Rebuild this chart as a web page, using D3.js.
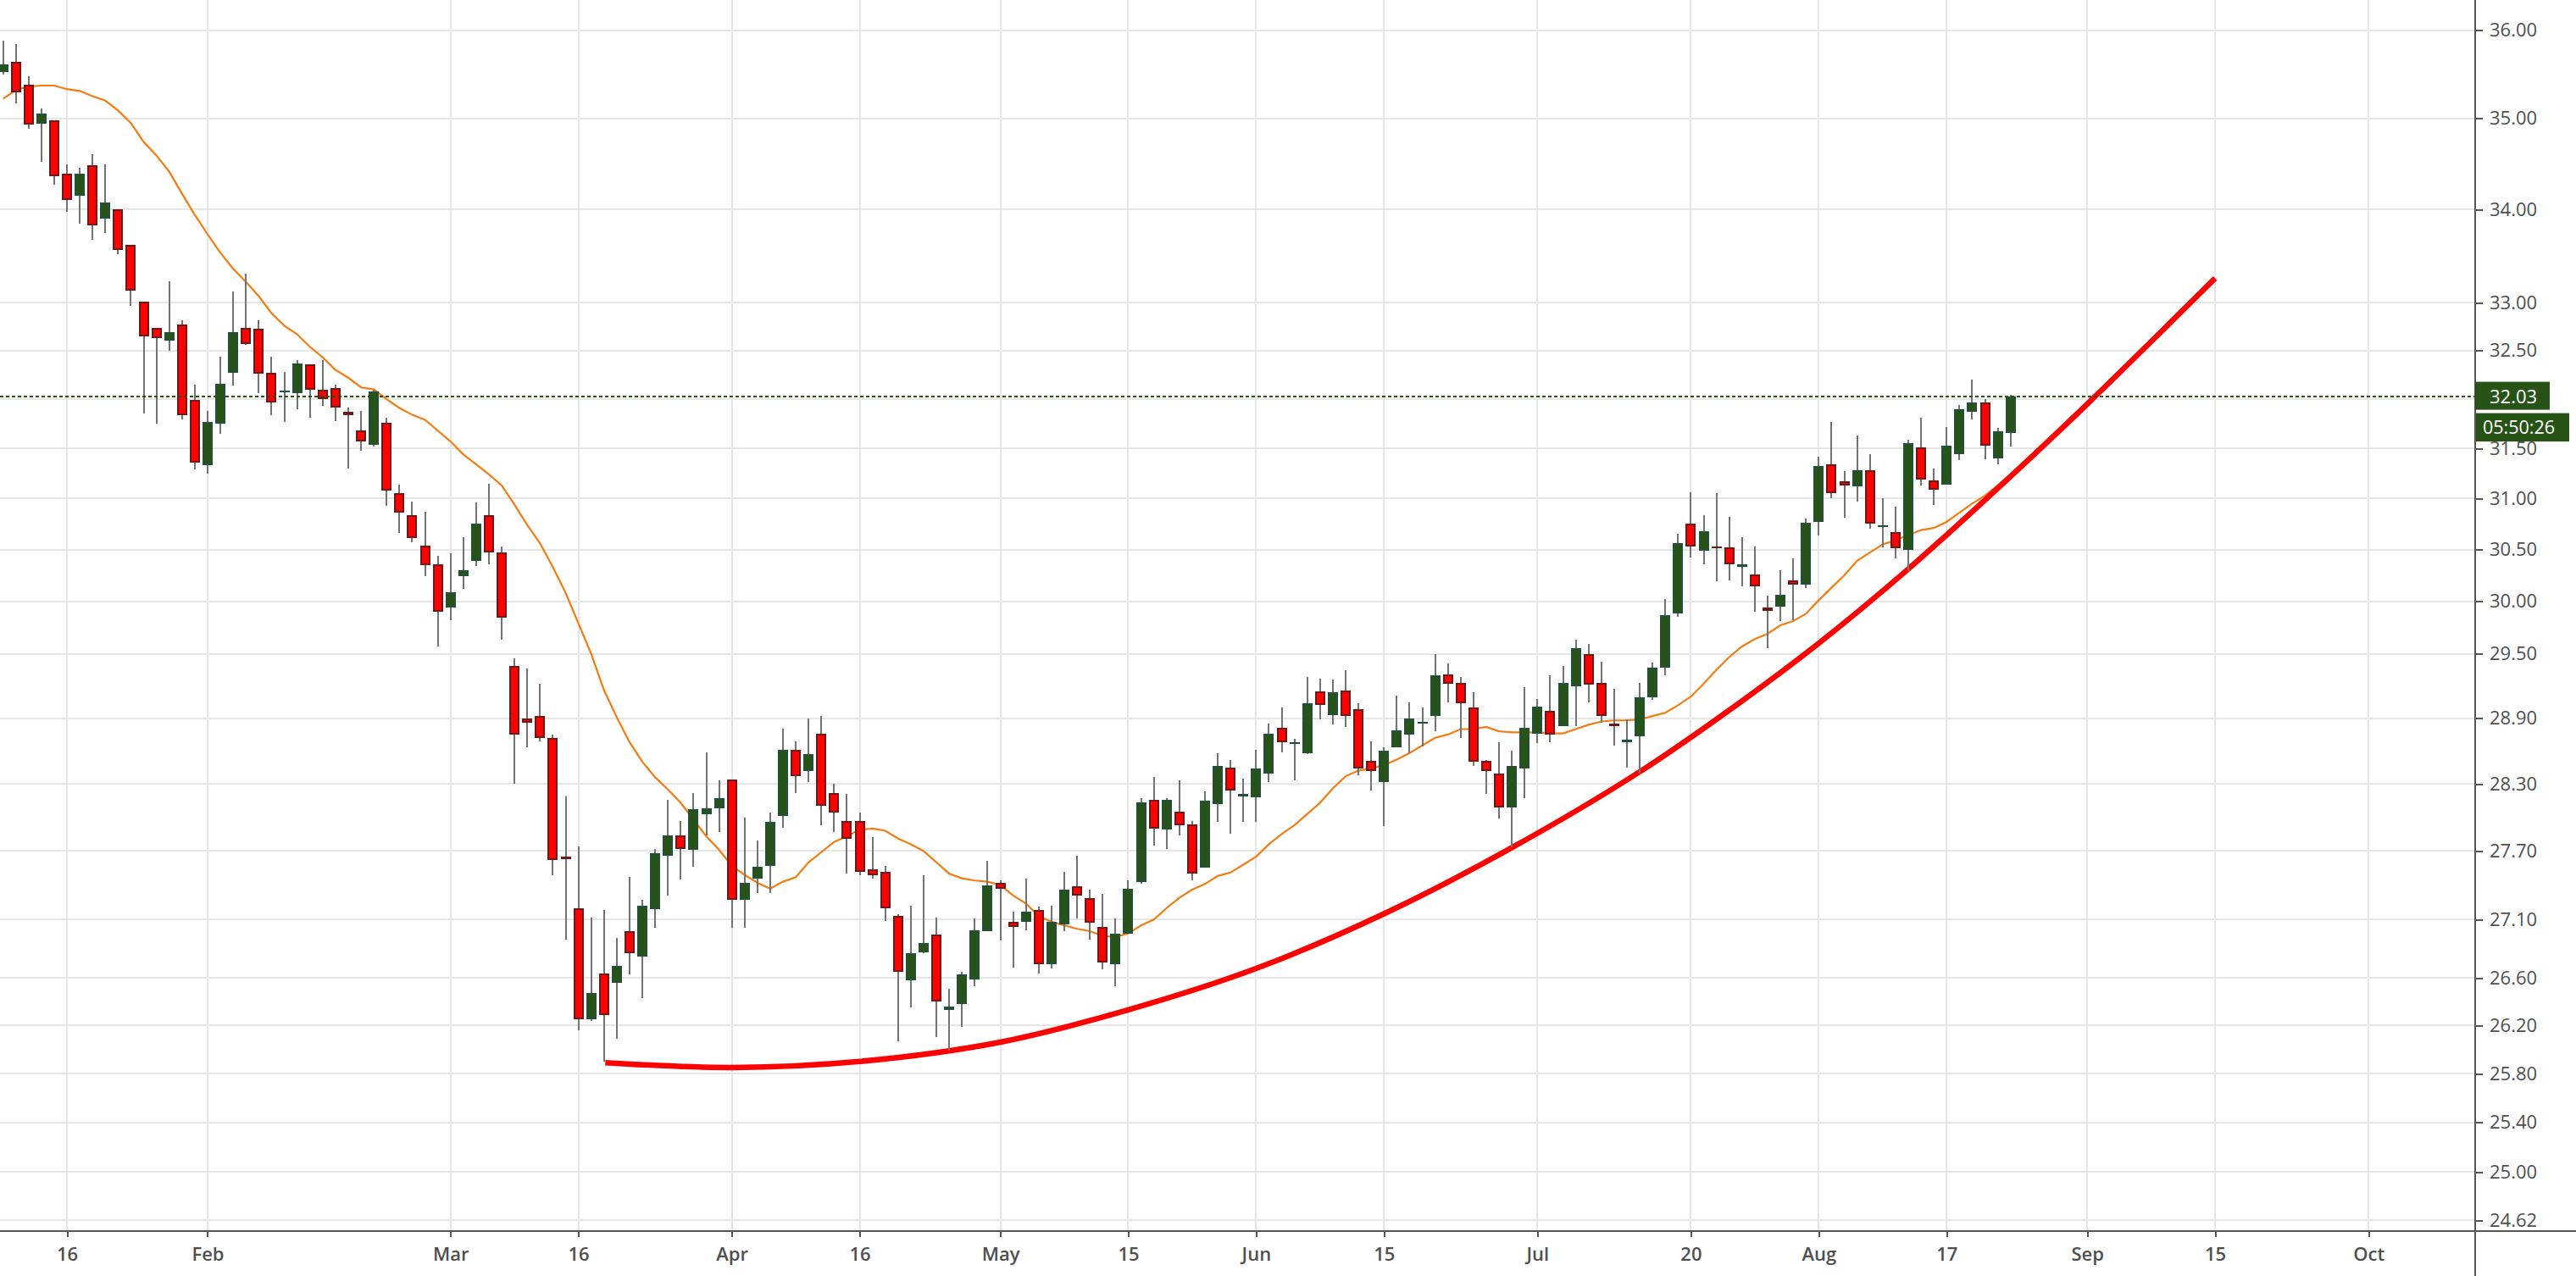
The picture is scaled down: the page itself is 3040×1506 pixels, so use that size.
<!DOCTYPE html>
<html>
  <head>
    <title>Daily candles with rounded trend line</title>
    <script src="https://d3js.org/d3.v7.min.js"></script>
    <style>
      html, body { margin: 0; padding: 0; background: #fff; }
      svg { display: block; }
      text { font-family: "Open Sans", "Noto Sans", sans-serif; }
    </style>
  </head>
  <body>
    <svg id="chart" width="3040" height="1506"></svg>
    <script>
      // one entry per trading day
      let opens = [35.52,35.64,35.38,34.94,34.98,34.39,34.15,34.48,33.90,34.00,33.62,33.01,32.74,32.60,32.77,31.99,31.33,31.75,32.27,32.74,
        32.73,32.27,32.08,32.06,32.36,32.10,32.11,31.87,31.68,31.54,31.76,31.05,30.84,30.54,30.36,29.94,30.24,30.39,30.84,30.47,
        29.39,28.90,28.92,28.72,27.65,27.20,26.25,26.64,26.56,27.00,26.78,27.19,27.66,27.84,27.71,28.03,28.08,28.34,27.27,27.46,
        27.57,28.01,28.61,28.42,28.76,28.22,27.97,27.97,27.54,27.52,27.13,26.58,26.82,26.97,26.33,26.38,26.59,27.00,27.42,27.08,
        27.08,27.18,26.72,27.06,27.39,27.29,27.04,26.72,26.98,27.43,28.16,27.89,28.05,27.94,27.55,28.12,28.45,28.19,28.18,28.39,
        28.81,28.66,28.58,29.15,28.93,29.16,28.98,28.51,28.32,28.63,28.75,28.86,28.92,29.31,29.23,29.00,28.51,28.39,28.09,28.44,
        28.76,28.97,28.83,29.20,29.50,29.23,28.85,28.69,28.73,29.09,29.37,29.88,30.75,30.49,30.53,30.52,30.33,30.26,29.94,29.95,
        30.20,30.16,30.77,31.34,31.17,31.12,31.28,30.73,30.67,30.50,31.51,31.18,31.14,31.44,31.87,31.97,31.40,31.66];
      let highs = [35.88,35.84,35.48,35.11,34.98,34.49,34.45,34.60,34.49,34.00,33.62,33.01,32.74,33.23,32.82,32.15,31.88,32.44,33.12,33.31,
        32.82,32.44,32.28,32.40,32.36,32.40,32.15,31.91,31.88,32.10,31.81,31.14,30.97,30.87,30.44,30.46,30.62,30.96,31.15,30.53,
        29.46,29.36,29.22,28.75,28.19,27.74,27.12,27.18,26.94,27.47,27.27,27.72,28.16,27.97,28.22,28.59,28.33,28.34,28.00,27.79,
        28.04,28.80,28.69,28.90,28.92,28.30,28.21,28.04,27.82,27.57,27.15,27.22,27.49,27.12,26.51,26.65,27.11,27.61,27.44,27.17,
        27.46,27.21,27.22,27.52,27.66,27.36,27.32,27.11,27.44,28.17,28.36,28.17,28.33,27.97,28.23,28.58,28.52,28.35,28.61,28.85,
        29.00,28.71,29.28,29.27,29.26,29.35,29.04,28.69,28.63,29.11,29.05,29.00,29.50,29.41,29.28,29.14,28.52,28.68,28.60,29.19,
        29.08,29.30,29.39,29.63,29.59,29.43,29.17,28.89,29.23,29.42,30.02,30.65,31.06,30.84,31.05,30.82,30.62,30.53,30.05,30.30,
        30.41,30.80,31.42,31.77,31.27,31.63,31.44,31.00,30.92,31.59,31.81,31.30,31.72,31.94,32.20,32.00,31.71,32.04];
      let lows = [35.49,35.17,34.89,34.52,34.27,33.97,33.84,33.67,33.74,33.52,32.97,31.85,31.75,32.50,31.79,31.29,31.25,31.65,32.14,32.56,
        32.06,31.84,31.77,31.90,31.81,31.93,31.78,31.30,31.48,31.52,30.93,30.66,30.57,30.24,29.57,29.82,30.12,30.34,30.36,29.63,
        28.30,28.63,28.69,27.49,26.93,26.16,26.24,25.90,26.09,26.63,26.43,27.03,27.31,27.45,27.56,27.84,27.87,27.03,27.03,27.33,
        27.33,27.91,28.22,28.32,27.93,27.87,27.50,27.49,27.46,27.09,26.07,26.35,26.81,26.10,25.99,26.19,26.53,27.00,26.92,26.69,
        27.01,26.64,26.68,27.00,27.11,26.93,26.67,26.53,26.98,27.41,27.75,27.72,27.84,27.44,27.55,27.96,27.85,27.96,27.96,28.32,
        28.59,28.33,28.57,28.89,28.84,28.82,28.38,28.24,27.92,28.63,28.58,28.64,28.78,29.05,28.72,28.46,28.21,27.99,27.73,28.17,
        28.67,28.68,28.83,28.83,29.05,28.86,28.65,28.45,28.39,29.07,29.30,29.85,30.42,30.36,30.19,30.20,30.14,29.90,29.55,29.81,
        29.82,30.13,30.64,31.00,30.81,30.97,30.70,30.52,30.41,30.29,31.13,30.94,31.14,31.38,31.79,31.39,31.34,31.52];
      let closes = [35.61,35.29,34.93,35.06,34.36,34.10,34.39,33.83,34.07,33.56,33.13,32.65,32.63,32.69,31.84,31.36,31.77,32.16,32.69,32.57,
        32.26,31.97,32.09,32.37,32.10,32.00,31.91,31.84,31.57,32.08,31.08,30.86,30.61,30.35,29.90,30.09,30.30,30.75,30.47,29.84,
        28.75,28.86,28.72,27.62,27.63,26.25,26.47,26.29,26.70,26.81,27.22,27.68,27.84,27.72,28.07,28.08,28.17,27.27,27.42,27.56,
        27.96,28.61,28.37,28.57,28.10,28.04,27.81,27.52,27.49,27.20,26.65,26.81,26.90,26.40,26.36,26.63,27.01,27.40,27.37,27.04,
        27.17,26.72,27.08,27.36,27.31,27.07,26.73,26.98,27.37,28.13,27.90,28.16,27.93,27.50,28.15,28.46,28.24,28.21,28.44,28.76,
        28.68,28.68,29.04,29.02,29.14,28.92,28.44,28.42,28.60,28.79,28.90,28.87,29.30,29.22,29.04,28.50,28.42,28.09,28.46,28.81,
        29.01,28.75,29.23,29.55,29.21,28.92,28.83,28.70,29.09,29.37,29.87,30.56,30.53,30.68,30.52,30.36,30.36,30.14,29.91,30.06,
        30.16,30.76,31.32,31.05,31.13,31.28,30.75,30.74,30.51,31.55,31.19,31.09,31.53,31.90,31.97,31.53,31.67,32.03];

      // orange moving average, same days
      let maValues = [35.22,35.32,35.36,35.37,35.37,35.33,35.31,35.25,35.20,35.09,34.95,34.74,34.59,34.41,34.17,33.94,33.73,33.53,33.36,33.22,
        33.07,32.89,32.76,32.67,32.54,32.43,32.30,32.22,32.12,32.10,32.00,31.91,31.84,31.79,31.68,31.57,31.44,31.34,31.24,31.13,
        30.94,30.74,30.56,30.33,30.08,29.79,29.50,29.16,28.91,28.68,28.50,28.36,28.25,28.13,27.98,27.83,27.71,27.57,27.49,27.42,
        27.37,27.43,27.47,27.60,27.69,27.78,27.83,27.89,27.90,27.88,27.81,27.76,27.70,27.60,27.50,27.46,27.44,27.43,27.40,27.31,
        27.24,27.13,27.08,27.05,27.02,27.00,26.96,26.95,26.98,27.05,27.10,27.20,27.29,27.36,27.41,27.48,27.51,27.58,27.65,27.76,
        27.85,27.93,28.03,28.13,28.26,28.37,28.42,28.44,28.47,28.52,28.58,28.65,28.72,28.75,28.80,28.80,28.82,28.78,28.77,28.77,
        28.77,28.76,28.76,28.80,28.84,28.87,28.88,28.88,28.89,28.92,28.95,29.02,29.10,29.22,29.35,29.47,29.57,29.64,29.69,29.77,
        29.81,29.88,30.01,30.13,30.25,30.39,30.47,30.55,30.59,30.64,30.69,30.71,30.77,30.86,30.95,31.03,31.13,31.24];

      // hand drawn red arc, day index and price
      let arcDays = [47.1,57,67,78,88,98,108,118,128,136,142,149,157,163,173];
      let arcPrices = [25.89,25.85,25.90,26.06,26.33,26.68,27.15,27.73,28.41,29.06,29.60,30.31,31.22,31.95,33.26];

      let priceTicks = [36,35,34,33,32.5,32,31.5,31,30.5,30,29.5,28.9,28.3,27.7,27.1,26.6,26.2,25.8,25.4,25,24.62];
      let dayTicks = [5,16,35,45,57,67,78,88,98,108,120,132,142,152,163,173,185];
      let dayLabels = ["16","Feb","Mar","16","Apr","16","May","15","Jun","15","Jul","20","Aug","17","Sep","15","Oct"];
      let lastPrice = 32.03;
      let countdown = "05:50:26";

      let plotRight = 2921;
      let plotBottom = 1453;
      let upColor = "#275317";
      let downColor = "#ff0000";
      let downBorder = "#6b1a1a";
      let upBorder = "#23503a";
      let gridColor = "#e6e6e6";
      let axisColor = "#555555";
      let textColor = "#4f4f4f";

      let svg = d3.select("#chart");

      let x = d3.scaleLinear().domain([0, 157]).range([3.55, 3.55 + 157 * 15.09]);
      let y = d3.scaleLog().domain([24.534, 36.35]).range([plotBottom, 0]);

      // grid
      svg.append("g")
        .selectAll("line")
        .data(priceTicks)
        .enter()
        .append("line")
        .attr("x1", 0)
        .attr("x2", plotRight)
        .attr("y1", (d) => y(d))
        .attr("y2", (d) => y(d))
        .style("stroke", gridColor)
        .style("stroke-width", 2)
        .style("shape-rendering", "crispEdges");

      svg.append("g")
        .selectAll("line")
        .data(dayTicks)
        .enter()
        .append("line")
        .attr("x1", (d) => x(d))
        .attr("x2", (d) => x(d))
        .attr("y1", 0)
        .attr("y2", plotBottom)
        .style("stroke", gridColor)
        .style("stroke-width", 2)
        .style("shape-rendering", "crispEdges");

      // moving average sits under the candles
      let maLine = d3.line()
        .x((d, i) => x(i))
        .y((d) => y(d));

      svg.append("path")
        .attr("d", maLine(maValues))
        .style("fill", "none")
        .style("stroke", "#f57c10")
        .style("stroke-width", 2.2);

      let arcLine = d3.line()
        .x((d) => x(d[0]))
        .y((d) => y(d[1]))
        .curve(d3.curveCatmullRom);

      svg.append("path")
        .attr("d", arcLine(d3.zip(arcDays, arcPrices)))
        .style("fill", "none")
        .style("stroke", "#ff0000")
        .style("stroke-width", 6.5);

      // candles
      let candles = svg.append("g")
        .selectAll("g")
        .data(d3.range(opens.length))
        .enter()
        .append("g")
        .style("shape-rendering", "crispEdges");

      candles.append("line")
        .attr("x1", (i) => x(i))
        .attr("x2", (i) => x(i))
        .attr("y1", (i) => y(highs[i]))
        .attr("y2", (i) => y(lows[i]))
        .style("stroke", "#737373")
        .style("stroke-width", 2);

      candles.append("rect")
        .attr("x", (i) => x(i) - 5)
        .attr("width", 10)
        .attr("y", (i) => y(Math.max(opens[i], closes[i])) + 1)
        .attr("height", (i) => Math.max(Math.abs(y(opens[i]) - y(closes[i])) - 2, 0.5))
        .style("fill", (i) => (closes[i] > opens[i] ? upColor : downColor))
        .style("stroke", (i) => (closes[i] > opens[i] ? upBorder : downBorder))
        .style("stroke-width", 2);

      // last price line
      svg.append("line")
        .attr("x1", 0)
        .attr("x2", plotRight)
        .attr("y1", y(lastPrice))
        .attr("y2", y(lastPrice))
        .style("stroke", upColor)
        .style("stroke-width", 2)
        .style("stroke-dasharray", "4,3")
        .style("shape-rendering", "crispEdges");

      // axes
      let yAxis = d3.axisRight(y)
        .tickValues(priceTicks)
        .tickFormat(d3.format(".2f"))
        .tickSize(9)
        .tickSizeOuter(0)
        .tickPadding(8);

      let xAxis = d3.axisBottom(x)
        .tickValues(dayTicks)
        .tickFormat((d, i) => dayLabels[i])
        .tickSize(7)
        .tickSizeOuter(0)
        .tickPadding(12);

      let yGroup = svg.append("g").attr("transform", `translate(${plotRight},0)`).call(yAxis);
      let xGroup = svg.append("g").attr("transform", `translate(0,${plotBottom})`).call(xAxis);

      yGroup.select(".domain").remove();
      xGroup.select(".domain").remove();
      yGroup.selectAll("line").style("stroke", axisColor).style("stroke-width", 2).style("shape-rendering", "crispEdges");
      xGroup.selectAll("line").style("stroke", axisColor).style("stroke-width", 2).style("shape-rendering", "crispEdges");
      yGroup.selectAll("text").style("font-size", "22px").style("fill", textColor);
      xGroup.selectAll("text").style("font-size", "22px").style("fill", textColor).style("font-weight", 600);

      svg.append("line")
        .attr("x1", 0).attr("x2", 3040)
        .attr("y1", plotBottom).attr("y2", plotBottom)
        .style("stroke", axisColor).style("stroke-width", 2);
      svg.append("line")
        .attr("x1", plotRight).attr("x2", plotRight)
        .attr("y1", 0).attr("y2", 1506)
        .style("stroke", axisColor).style("stroke-width", 2);

      // price and countdown tags
      let tagY = y(lastPrice);
      svg.append("rect")
        .attr("x", plotRight).attr("y", tagY - 17)
        .attr("width", 88).attr("height", 33)
        .style("fill", upColor);
      svg.append("text")
        .attr("x", plotRight + 17).attr("y", tagY + 8)
        .style("font-size", "22px").style("fill", "#ffffff")
        .text(d3.format(".2f")(lastPrice));
      svg.append("rect")
        .attr("x", plotRight + 1).attr("y", tagY + 20)
        .attr("width", 110).attr("height", 33.5)
        .style("fill", upColor);
      svg.append("text")
        .attr("x", plotRight + 9).attr("y", tagY + 44)
        .style("font-size", "21.5px").style("fill", "#ffffff")
        .text(countdown);
    </script>
  </body>
</html>
